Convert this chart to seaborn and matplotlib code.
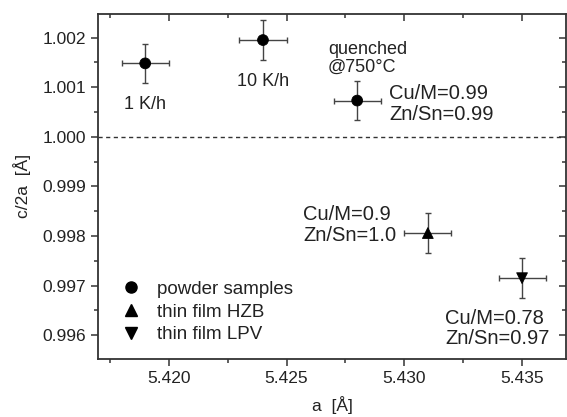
import numpy as np
import pandas as pd
import seaborn as sns
import matplotlib.pyplot as plt
from matplotlib.lines import Line2D
from matplotlib.ticker import MultipleLocator

# lattice data
a_vals = [5.4190, 5.4240, 5.4280, 5.4310, 5.4350]
c2a_vals = [1.00148, 1.00195, 1.00073, 0.99806, 0.99715]
a_err = [0.0010, 0.0010, 0.0010, 0.0010, 0.0010]
c2a_err = [0.0004, 0.0004, 0.0004, 0.0004, 0.0004]
sample_type = ['powder samples', 'powder samples', 'powder samples',
               'thin film HZB', 'thin film LPV']
type_order = ['powder samples', 'thin film HZB', 'thin film LPV']
type_markers = {'powder samples': 'o', 'thin film HZB': '^', 'thin film LPV': 'v'}

df = pd.DataFrame({'a': a_vals, 'c2a': c2a_vals, 'type': sample_type})

sns.set_style('white')
plt.rcParams['font.family'] = ['Liberation Sans', 'DejaVu Sans']
plt.rcParams['font.size'] = 12.5
tcol = '#222222'

fig, ax = plt.subplots(figsize=(5.67, 4.17), dpi=100)
fig.subplots_adjust(left=0.173, right=0.998, top=0.967, bottom=0.139)

ax.errorbar(df['a'], df['c2a'], xerr=a_err, yerr=c2a_err, fmt='none',
            ecolor='#444444', elinewidth=1.0, capsize=2.5, capthick=1.0, zorder=2)
sns.scatterplot(data=df, x='a', y='c2a', style='type', markers=type_markers,
                style_order=type_order, color='black', s=60, edgecolor='black',
                legend=False, ax=ax, zorder=3)

ax.axhline(1.000, color='#333333', linestyle=(0, (3, 2.5)), linewidth=1.0, zorder=1)

# annotations
ax.text(5.4190, 1.00082, '1 K/h', ha='center', va='top', fontsize=13, color=tcol)
ax.text(5.4240, 1.00129, '10 K/h', ha='center', va='top', fontsize=13, color=tcol)
ax.text(5.42676, 1.00158, 'quenched\n@750°C', ha='left', va='center',
        fontsize=13, linespacing=1.1, color=tcol)
ax.text(5.42935, 1.00066, 'Cu/M=0.99\nZn/Sn=0.99', ha='left', va='center',
        fontsize=14.5, linespacing=1.1, color=tcol)
ax.text(5.42572, 0.99822, 'Cu/M=0.9\nZn/Sn=1.0', ha='left', va='center',
        fontsize=14.5, linespacing=1.1, color=tcol)
ax.text(5.43174, 0.99614, 'Cu/M=0.78\nZn/Sn=0.97', ha='left', va='center',
        fontsize=14.5, linespacing=1.1, color=tcol)

handles = [Line2D([], [], marker=type_markers[t], color='black', linestyle='none',
                  markersize=8) for t in type_order]
ax.legend(handles, type_order, loc='lower left', bbox_to_anchor=(0.05, 0.045),
          frameon=False, handlelength=1.0, handletextpad=0.9, labelspacing=0.31,
          fontsize=13.5, borderpad=0.0, borderaxespad=0.0, labelcolor=tcol)

ax.set_xlim(5.4170, 5.43686)
ax.set_ylim(0.99552, 1.00248)
ax.xaxis.set_major_locator(MultipleLocator(0.005))
ax.xaxis.set_minor_locator(MultipleLocator(0.0025))
ax.yaxis.set_major_locator(MultipleLocator(0.001))
ax.yaxis.set_minor_locator(MultipleLocator(0.0005))
ax.xaxis.set_major_formatter(plt.FormatStrFormatter('%.3f'))
ax.yaxis.set_major_formatter(plt.FormatStrFormatter('%.3f'))

for side in ['left', 'bottom', 'top', 'right']:
    ax.spines[side].set_color('#333333')
    ax.spines[side].set_linewidth(1.3)
ax.tick_params(which='both', direction='out', color='#333333', width=1.1,
               bottom=True, left=True, top=False, right=False,
               labelsize=12.5, labelcolor=tcol)
ax.tick_params(which='major', length=5)
ax.tick_params(which='minor', length=3)

# inward ticks on top and right
sec_x = ax.secondary_xaxis('top')
sec_x.xaxis.set_major_locator(MultipleLocator(0.005))
sec_x.xaxis.set_minor_locator(MultipleLocator(0.0025))
sec_x.tick_params(which='both', direction='in', top=True, labeltop=False,
                  color='#333333', width=1.1)
sec_x.tick_params(which='major', length=5)
sec_x.tick_params(which='minor', length=3)
sec_x.spines['top'].set_visible(False)
sec_y = ax.secondary_yaxis('right')
sec_y.yaxis.set_major_locator(MultipleLocator(0.001))
sec_y.yaxis.set_minor_locator(MultipleLocator(0.0005))
sec_y.tick_params(which='both', direction='in', right=True, labelright=False,
                  color='#333333', width=1.1)
sec_y.tick_params(which='major', length=5)
sec_y.tick_params(which='minor', length=3)
sec_y.spines['right'].set_visible(False)

ax.set_xlabel('a  [Å]', fontsize=12.5, labelpad=7, color=tcol)
ax.set_ylabel('c/2a  [Å]', fontsize=12.5, labelpad=8, color=tcol)

fig.savefig('out.png', dpi=100)
